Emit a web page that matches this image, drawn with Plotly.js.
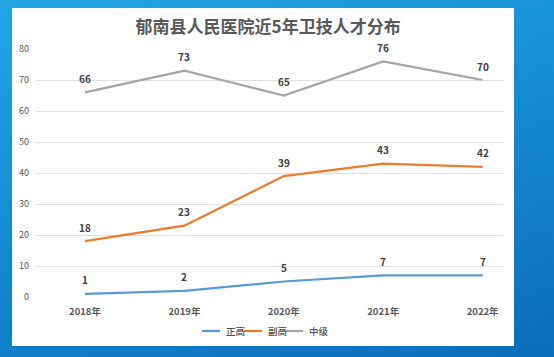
<!DOCTYPE html>
<html>
<head>
<meta charset="utf-8">
<script src="https://cdn.plot.ly/plotly-3.0.1.min.js"></script>
<style>
html,body{margin:0;padding:0;width:554px;height:357px;overflow:hidden;}
body{background:linear-gradient(165deg,#22a5e4 0%,#1589d2 50%,#0c6cb9 100%);position:relative;}
#panel{position:absolute;left:12px;top:8px;width:502px;height:338px;background:#ffffff;}
#chart{position:absolute;left:0;top:0;width:554px;height:357px;}
</style>
</head>
<body>
<div id="panel"></div>
<div id="chart"></div>
<script>
const categories = ['2018年','2019年','2020年','2021年','2022年'];
const zhengGao = [1, 2, 5, 7, 7];
const fuGao = [18, 23, 39, 43, 42];
const zhongJi = [66, 73, 65, 76, 70];
const seriesNames = ['正高','副高','中级'];
const seriesColors = ['#5b9bd5','#ed7d31','#a5a5a5'];
const yTicks = [0,10,20,30,40,50,60,70,80];

const font = 'Noto Sans CJK SC, Noto Sans, sans-serif';
const allSeries = [zhengGao, fuGao, zhongJi];

const data = allSeries.map((vals, i) => ({
  type:'scatter', mode:'lines', name:seriesNames[i],
  x:categories, y:vals,
  line:{color:seriesColors[i], width:2.25},
  showlegend:false, cliponaxis:false
}));

// plot area in pixels: x 35..503, y 49..297
const L = 35, R = 503, T = 49, B = 297;
const px = x => (x - L) / (R - L);
const py = y => (B - y) / (B - T);

const annotations = [];
allSeries.forEach(vals => {
  vals.forEach((v, j) => {
    annotations.push({x:categories[j], y:v, xref:'x', yref:'y', text:String(v),
      showarrow:false, yshift:14,
      font:{family:font, size:10, color:'#404040', weight:700}});
  });
});

// custom legend
const shapes = [];
const legendY = py(331);
const legendStarts = [202, 244, 285];
seriesNames.forEach((name, i) => {
  const x0 = legendStarts[i];
  shapes.push({type:'line', xref:'paper', yref:'paper', x0:px(x0), x1:px(x0+18), y0:legendY, y1:legendY,
    line:{color:seriesColors[i], width:2.25}});
  annotations.push({xref:'paper', yref:'paper', x:px(x0+22), y:legendY, xanchor:'left', yanchor:'middle',
    text:name, showarrow:false, font:{family:font, size:9.5, color:'#505050', weight:500}});
});

const layout = {
  width:554, height:357,
  paper_bgcolor:'rgba(0,0,0,0)', plot_bgcolor:'rgba(0,0,0,0)',
  margin:{l:L, r:554-R, t:T, b:357-B},
  font:{family:font, color:'#595959'},
  title:{text:'郁南县人民医院近5年卫技人才分布', x:0.484, xanchor:'center', y:0.925, yanchor:'middle',
         font:{family:font, size:17, color:'#595959', weight:700}},
  xaxis:{type:'category', range:[-0.503, 4.205], showgrid:false, zeroline:false,
         showline:false, ticks:'', tickfont:{family:font, size:9.5, color:'#595959', weight:700},
         ticklabelstandoff:7, fixedrange:true},
  yaxis:{range:[0,80], tickvals:yTicks, showgrid:true, gridcolor:'#e0e0e0', gridwidth:1,
         zeroline:false, showline:false, ticks:'', tickfont:{family:font, size:9, color:'#595959'},
         ticklabelstandoff:5, fixedrange:true},
  showlegend:false,
  annotations:annotations,
  shapes:shapes
};
Plotly.newPlot('chart', data, layout, {displayModeBar:false, staticPlot:true});
</script>
</body>
</html>
